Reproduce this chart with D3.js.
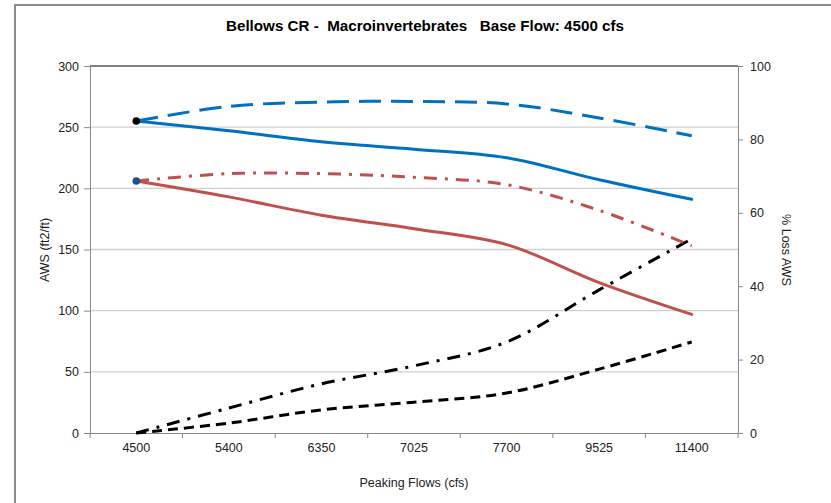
<!DOCTYPE html>
<html><head><meta charset="utf-8">
<script src="https://cdn.jsdelivr.net/npm/d3@7"></script>
<style>body{margin:0;background:#fff}svg{display:block}text{font-family:"Liberation Sans",Arial,sans-serif}</style>
</head><body>
<svg id="c" width="831" height="503"></svg>
<script>
const categories = ["4500","5400","6350","7025","7700","9525","11400"];
const awsSolidBlue = [255, 247, 238, 232, 225, 207, 191];
const awsDashBlue = [255, 267, 270.5, 271, 269, 257.5, 243];
const awsSolidRed = [206, 193, 178, 167, 154, 123, 97];
const awsDashDotRed = [206, 212, 212, 209, 203, 182, 153];
const lossDashDot = [0, 6.8, 13.4, 18.3, 24.8, 39, 52.9];
const lossDash = [0, 2.7, 6.3, 8.4, 10.9, 17.4, 24.8];
const leftTicks = [0, 50, 100, 150, 200, 250, 300];
const rightTicks = [0, 20, 40, 60, 80, 100];

const svg = d3.select("#c");
const L = 90, R = 738, T = 66, B = 433;
const x = d3.scaleBand().domain(categories).range([L, R]);
const yL = d3.scaleLinear().domain([0, 300]).range([B, T]);
const yR = d3.scaleLinear().domain([0, 100]).range([B, T]);
const cx = c => x(c) + x.bandwidth() / 2;

// outer frame
svg.append("path").attr("d", "M15,503V5H831").attr("fill", "none").attr("stroke", "#8c8c8c").attr("stroke-width", 2);

// title
svg.append("text").attr("x", 425).attr("y", 31).attr("text-anchor", "middle")
  .attr("font-size", 15).attr("font-weight", "bold").attr("fill", "#000")
  .attr("xml:space", "preserve")
  .attr("textLength", 398).attr("lengthAdjust", "spacingAndGlyphs")
  .text("Bellows CR -  Macroinvertebrates   Base Flow: 4500 cfs");

// gridlines
svg.append("g").selectAll("line").data(leftTicks.filter(d => d > 0 && d < 300)).join("line")
  .attr("x1", L).attr("x2", R).attr("y1", d => yL(d)).attr("y2", d => yL(d))
  .attr("stroke", "#d0d0d0").attr("stroke-width", 1.3);
svg.append("line").attr("x1", L).attr("x2", R).attr("y1", T).attr("y2", T).attr("stroke", "#000").attr("stroke-width", 1.2);

// left axis
const gl = svg.append("g").attr("transform", `translate(${L},0)`)
  .call(d3.axisLeft(yL).tickValues(leftTicks).tickSize(6).tickPadding(5));
// right axis
const gr = svg.append("g").attr("transform", `translate(${R},0)`)
  .call(d3.axisRight(yR).tickValues(rightTicks).tickSize(5).tickPadding(7));
// bottom axis
const gb = svg.append("g").attr("transform", `translate(0,${B})`)
  .call(d3.axisBottom(x).tickSize(0).tickPadding(10));
// category boundary ticks
svg.append("g").selectAll("line").data(d3.range(categories.length + 1)).join("line")
  .attr("x1", i => L + i * x.step()).attr("x2", i => L + i * x.step())
  .attr("y1", B).attr("y2", B + 5).attr("stroke", "#888");

[gl, gr, gb].forEach(g => {
  g.selectAll(".domain").attr("stroke", "#888").attr("stroke-width", 1);
  g.selectAll(".tick line").attr("stroke", "#888");
  g.selectAll("text").attr("font-size", 12.5).attr("fill", "#222")
    .attr("font-family", "'Liberation Sans',Arial,sans-serif");
});

// axis titles
svg.append("text").attr("transform", "translate(49,250) rotate(-90)").attr("text-anchor", "middle")
  .attr("font-size", 12.5).attr("fill", "#222").text("AWS (ft2/ft)");
svg.append("text").attr("transform", "translate(782,250) rotate(90)").attr("text-anchor", "middle")
  .attr("font-size", 12.5).attr("fill", "#222").text("% Loss AWS");
svg.append("text").attr("x", 414).attr("y", 487).attr("text-anchor", "middle")
  .attr("font-size", 12.5).attr("fill", "#222").text("Peaking Flows (cfs)");

const curve = d3.curveCatmullRom.alpha(0.5);
function drawLine(vals, y, color, dash) {
  const line = d3.line().x((d, i) => cx(categories[i])).y(d => y(d)).curve(curve);
  svg.append("path").datum(vals).attr("d", line).attr("fill", "none")
    .attr("stroke", color).attr("stroke-width", 3)
    .attr("stroke-dasharray", dash).attr("stroke-linecap", dash ? "butt" : "round");
}
drawLine(lossDash, yR, "#000", "10,6");
drawLine(lossDashDot, yR, "#000", "13,8,3,8");
drawLine(awsSolidRed, yL, "#c0504d", null);
drawLine(awsDashDotRed, yL, "#c0504d", "13,8,3,8");
drawLine(awsSolidBlue, yL, "#0070c0", null);
drawLine(awsDashBlue, yL, "#0070c0", "22,10");

// start markers
svg.append("circle").attr("cx", cx(categories[0])).attr("cy", yL(awsDashBlue[0])).attr("r", 3.8).attr("fill", "#000");
svg.append("circle").attr("cx", cx(categories[0])).attr("cy", yL(awsSolidRed[0])).attr("r", 3.8).attr("fill", "#1f4e8c");
</script>
</body></html>
